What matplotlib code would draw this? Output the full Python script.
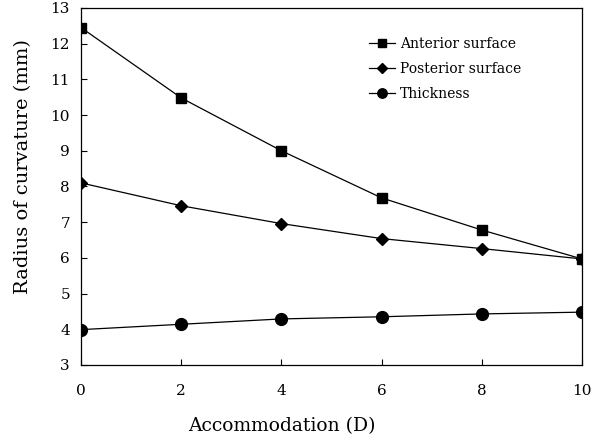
import matplotlib.pyplot as plt

# Datos
accommodation = [0, 2, 4, 6, 8, 10]
anterior = [12.45, 10.48, 9.0, 7.68, 6.78, 5.97]
posterior = [8.1, 7.46, 6.96, 6.54, 6.26, 5.97]
thickness = [3.99, 4.14, 4.29, 4.35, 4.43, 4.48]

plt.rcParams['font.family'] = ['DejaVu Serif']

fig = plt.figure(figsize=(6.05, 4.44), dpi=100)
ax = fig.add_axes([0.134, 0.178, 0.828, 0.804])

ax.plot(accommodation, anterior, 'k-s', lw=0.9, ms=6.5, label='Anterior surface')
ax.plot(accommodation, posterior, 'k-D', lw=0.9, ms=6.5, label='Posterior surface')
ax.plot(accommodation, thickness, 'k-o', lw=0.9, ms=8.5, label='Thickness')

ax.set_xlim(0, 10)
ax.set_ylim(3, 13)
ax.set_xticks(range(0, 11, 2))
ax.set_yticks(range(3, 14))
ax.tick_params(direction='in', length=4, labelsize=11, pad=8)
ax.tick_params(axis='x', pad=14)
for s in ax.spines.values():
    s.set_linewidth(0.9)

ax.set_xlabel('Accommodation (D)', fontsize=13.5)
ax.set_ylabel('Radius of curvature (mm)', fontsize=14)
ax.xaxis.set_label_coords(0.40, -0.145)
ax.yaxis.set_label_coords(-0.098, 0.555)

ax.legend(loc='upper left', bbox_to_anchor=(0.55, 0.955), frameon=False,
          fontsize=10, handlelength=1.9, handletextpad=0.3, labelspacing=0.8,
          markerscale=0.8)

plt.savefig('out.png', dpi=100)
